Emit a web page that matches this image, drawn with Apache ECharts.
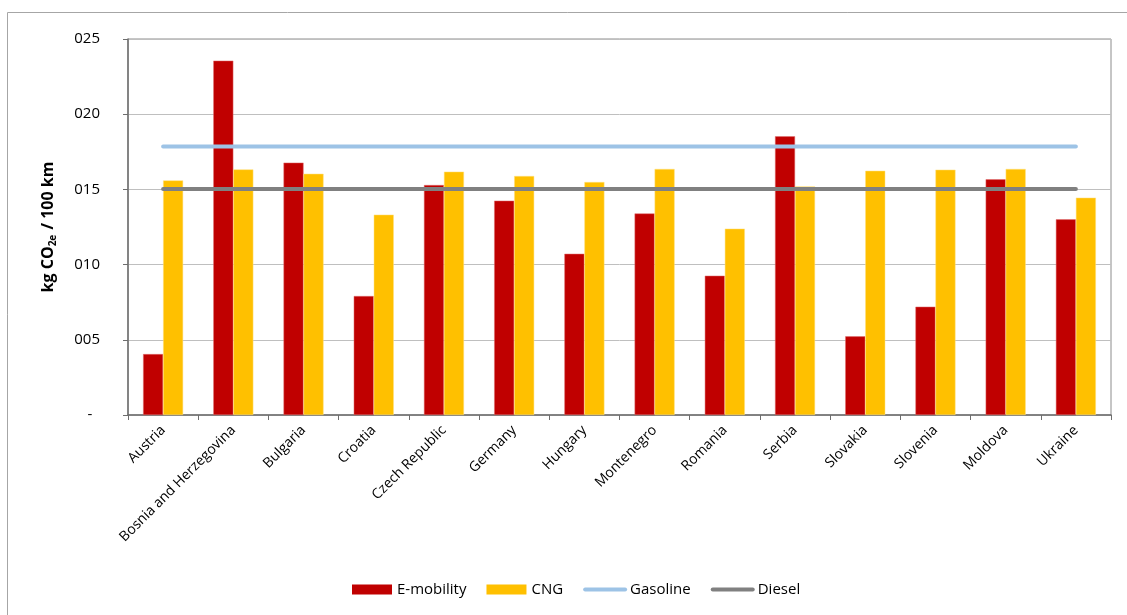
<!DOCTYPE html>
<html>
<head>
<meta charset="utf-8">
<script src="https://cdn.jsdelivr.net/npm/echarts@6/dist/echarts.min.js"></script>
<style>
html,body{margin:0;padding:0;background:#fff;}
#c{width:1127px;height:615px;}
</style>
</head>
<body>
<div id="c"></div>
<script>
var categories = ['Austria','Bosnia and Herzegovina','Bulgaria','Croatia','Czech Republic','Germany','Hungary','Montenegro','Romania','Serbia','Slovakia','Slovenia','Moldova','Ukraine'];
var eMobility = [4.05, 23.56, 16.78, 7.91, 15.29, 14.25, 10.72, 13.4, 9.26, 18.53, 5.23, 7.2, 15.67, 13.01];
var cng = [15.6, 16.33, 16.04, 13.32, 16.18, 15.89, 15.49, 16.36, 12.39, 15.2, 16.24, 16.31, 16.36, 14.45];
var gasoline = [17.85, 17.85, 17.85, 17.85, 17.85, 17.85, 17.85, 17.85, 17.85, 17.85, 17.85, 17.85, 17.85, 17.85];
var diesel = [15.03, 15.03, 15.03, 15.03, 15.03, 15.03, 15.03, 15.03, 15.03, 15.03, 15.03, 15.03, 15.03, 15.03];
var seriesNames = ['E-mobility', 'CNG', 'Gasoline', 'Diesel'];

var FONT = '"Open Sans", "DejaVu Sans", sans-serif';
var chart = echarts.init(document.getElementById('c'));
chart.setOption({
  animation: false,
  backgroundColor: '#fff',
  textStyle: { fontFamily: FONT },
  graphic: [{
    type: 'rect', silent: true, z: -10,
    shape: { x: 7.5, y: 12.5, width: 1300, height: 800 },
    style: { fill: 'none', stroke: '#a6a6a6', lineWidth: 1 }
  }],
  grid: { left: 128, right: 16, top: 39, bottom: 200, show: true, borderColor: '#8c8c8c', borderWidth: 1, backgroundColor: 'transparent' },
  legend: {
    top: 577, left: 347,
    itemWidth: 40, itemHeight: 10, itemGap: 20,
    textStyle: { fontFamily: FONT, fontSize: 15, color: '#000' },
    data: [
      { name: seriesNames[0], icon: 'rect', itemStyle: { borderWidth: 0 } },
      { name: seriesNames[1], icon: 'rect', itemStyle: { borderWidth: 0 } },
      { name: seriesNames[2], itemStyle: { opacity: 0 }, lineStyle: { width: 4, cap: 'round', color: '#9DC3E6' } },
      { name: seriesNames[3], itemStyle: { opacity: 0 }, lineStyle: { width: 4, cap: 'round', color: '#808080' } }
    ]
  },
  xAxis: {
    type: 'category', data: categories, boundaryGap: true,
    axisLine: { lineStyle: { color: '#6e6e6e', width: 1.5 } },
    axisTick: { show: true, alignWithLabel: false, length: 5, lineStyle: { color: '#6e6e6e' } },
    axisLabel: { rotate: 45, interval: 0, margin: 13, fontFamily: FONT, fontSize: 14, color: '#000' }
  },
  yAxis: {
    type: 'value', min: 0, max: 25, interval: 5,
    name: '{a|kg CO}{s|2e}{a| / 100 km}',
    nameLocation: 'middle', nameGap: 70, nameRotate: 90,
    nameTextStyle: {
      rich: {
        a: { fontFamily: FONT, fontSize: 16, fontWeight: 'bold', color: '#000' },
        s: { fontFamily: FONT, fontSize: 10, fontWeight: 'bold', color: '#000', verticalAlign: 'bottom', padding: [9, 1, 0, 0] }
      }
    },
    axisLine: { show: true, lineStyle: { color: '#6e6e6e', width: 1.5 } },
    axisTick: { show: true, length: 5, lineStyle: { color: '#6e6e6e' } },
    splitLine: { show: true, lineStyle: { color: '#bfbfbf', width: 1 } },
    axisLabel: {
      margin: 28, fontFamily: FONT, fontSize: 15, color: '#000',
      formatter: function (v) {
        if (v === 0) return '-  ';
        var s = String(Math.round(v));
        while (s.length < 3) s = '0' + s;
        return s;
      }
    }
  },
  series: [
    { name: seriesNames[0], type: 'bar', data: eMobility, barWidth: '28.5%', barGap: '0%',
      itemStyle: { color: '#C00000', borderColor: '#e07070', borderWidth: 0.5 } },
    { name: seriesNames[1], type: 'bar', data: cng, barWidth: '28.5%', barGap: '0%',
      itemStyle: { color: '#FFC000', borderColor: '#ffe080', borderWidth: 0.5 } },
    { name: seriesNames[2], type: 'line', data: gasoline, symbol: 'none', showSymbol: false,
      itemStyle: { color: '#9DC3E6' },
      lineStyle: { color: '#9DC3E6', width: 4, cap: 'round' }, z: 5 },
    { name: seriesNames[3], type: 'line', data: diesel, symbol: 'none', showSymbol: false,
      itemStyle: { color: '#808080' },
      lineStyle: { color: '#808080', width: 4, cap: 'round' }, z: 5 }
  ]
});
</script>
</body>
</html>
